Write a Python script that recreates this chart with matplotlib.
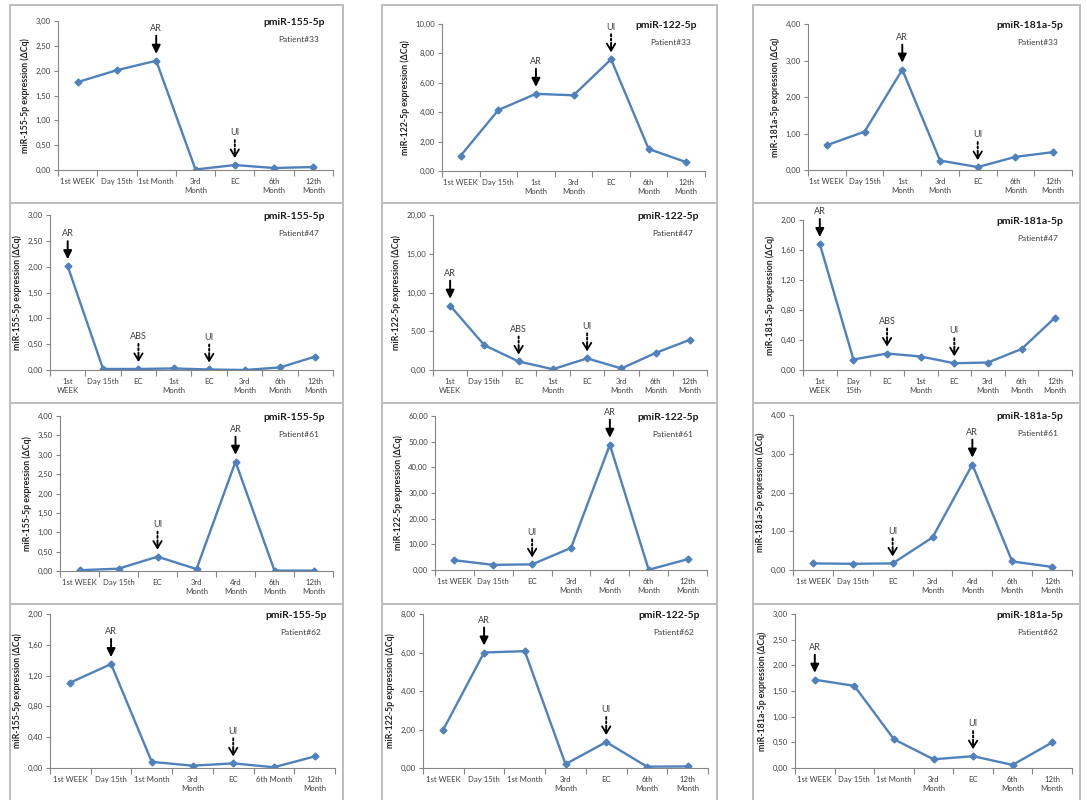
import matplotlib
matplotlib.use('Agg')
import matplotlib.pyplot as plt
from matplotlib.patches import Rectangle
from matplotlib.ticker import FuncFormatter, MultipleLocator, FixedLocator

plt.rcParams['font.family'] = ['Lato', 'DejaVu Sans']

W, H = 1087, 800

# category labels
cats_33_155 = ['1st WEEK', 'Day 15th', '1st Month', '3rd\nMonth', 'EC', '6th\nMonth', '12th\nMonth']
cats_33 = ['1st WEEK', 'Day 15th', '1st\nMonth', '3rd\nMonth', 'EC', '6th\nMonth', '12th\nMonth']
cats_47 = ['1st\nWEEK', 'Day 15th', 'EC', '1st\nMonth', 'EC', '3rd\nMonth', '6th\nMonth', '12th\nMonth']
cats_47_181 = ['1st\nWEEK', 'Day\n15th', 'EC', '1st\nMonth', 'EC', '3rd\nMonth', '6th\nMonth', '12th\nMonth']
cats_61 = ['1st WEEK', 'Day 15th', 'EC', '3rd\nMonth', '4rd\nMonth', '6th\nMonth', '12th\nMonth']
cats_62_155 = ['1st WEEK', 'Day 15th', '1st Month', '3rd\nMonth', 'EC', '6th Month', '12th\nMonth']
cats_62 = ['1st WEEK', 'Day 15th', '1st Month', '3rd\nMonth', 'EC', '6th\nMonth', '12th\nMonth']

# delta Cq values
p33_155 = [1.77, 2.01, 2.20, 0.01, 0.10, 0.04, 0.06]
p33_122 = [1.05, 4.15, 5.25, 5.15, 7.60, 1.50, 0.60]
p33_181 = [0.68, 1.05, 2.75, 0.26, 0.08, 0.36, 0.49]
p47_155 = [2.01, 0.02, 0.02, 0.03, 0.01, 0.00, 0.05, 0.26]
p47_122 = [8.30, 3.20, 1.10, 0.10, 1.50, 0.20, 2.20, 3.90]
p47_181 = [1.68, 0.14, 0.22, 0.18, 0.09, 0.10, 0.28, 0.70]
p61_155 = [0.02, 0.06, 0.37, 0.05, 2.82, 0.01, 0.01]
p61_122 = [3.80, 2.00, 2.20, 8.60, 48.8, 0.10, 4.20]
p61_181 = [0.17, 0.16, 0.17, 0.84, 2.72, 0.22, 0.08]
p62_155 = [1.11, 1.35, 0.08, 0.03, 0.06, 0.01, 0.15]
p62_122 = [2.00, 6.00, 6.07, 0.20, 1.35, 0.07, 0.08]
p62_181 = [1.72, 1.60, 0.56, 0.17, 0.23, 0.06, 0.50]

# events: (category index, label, solid arrow?)
ev_33 = [(2, 'AR', True), (4, 'UI', False)]
ev_47 = [(0, 'AR', True), (2, 'ABS', False), (4, 'UI', False)]
ev_61 = [(2, 'UI', False), (4, 'AR', True)]
ev_62 = [(1, 'AR', True), (4, 'UI', False)]
ev_62_181 = [(0, 'AR', True), (4, 'UI', False)]

lab155 = 'miR-155-5p expression (ΔCq)'
lab122 = 'miR-122-5p expression (ΔCq)'
lab181 = 'miR-181a-5p expression (ΔCq)'

panels = [
    # rect px (left, top, right, bottom), cats, vals, ymax, step, mirna, ylabel, patient, events
    ((58, 21, 333, 170), cats_33_155, p33_155, 3, 0.5, 'pmiR-155-5p', lab155, 'Patient#33', ev_33),
    ((442, 24, 705, 171), cats_33, p33_122, 10, 2, 'pmiR-122-5p', lab122, 'Patient#33', ev_33),
    ((808, 24, 1072, 170), cats_33, p33_181, 4, 1, 'pmiR-181a-5p', lab181, 'Patient#33', ev_33),
    ((50, 215, 333, 370), cats_47, p47_155, 3, 0.5, 'pmiR-155-5p', lab155, 'Patient#47', ev_47),
    ((433, 215, 707, 370), cats_47, p47_122, 20, 5, 'pmiR-122-5p', lab122, 'Patient#47', ev_47),
    ((803, 220, 1072, 370), cats_47_181, p47_181, 2, 0.4, 'pmiR-181a-5p', lab181, 'Patient#47', ev_47),
    ((60, 416, 333, 571), cats_61, p61_155, 4, 0.5, 'pmiR-155-5p', lab155, 'Patient#61', ev_61),
    ((435, 416, 707, 570), cats_61, p61_122, 60, 10, 'pmiR-122-5p', lab122, 'Patient#61', ev_61),
    ((793, 415, 1072, 570), cats_61, p61_181, 4, 1, 'pmiR-181a-5p', lab181, 'Patient#61', ev_61),
    ((50, 614, 335, 768), cats_62_155, p62_155, 2, 0.4, 'pmiR-155-5p', lab155, 'Patient#62', ev_62),
    ((423, 614, 708, 768), cats_62, p62_122, 8, 2, 'pmiR-122-5p', lab122, 'Patient#62', ev_62),
    ((795, 614, 1072, 768), cats_62, p62_181, 3, 0.5, 'pmiR-181a-5p', lab181, 'Patient#62', ev_62_181),
]

fig = plt.figure(figsize=(W / 100, H / 100), dpi=100)

# panel frames
col_x = [(10, 343), (382, 717), (753, 1080)]
row_y = [(5, 203), (203, 403), (403, 604), (604, 806)]
for (x0, x1) in col_x:
    for (y0, y1) in row_y:
        fig.add_artist(Rectangle((x0 / W, 1 - y1 / H), (x1 - x0) / W, (y1 - y0) / H,
                                 transform=fig.transFigure, fill=False,
                                 edgecolor='#bdbdbd', lw=1.4))

blue = '#4F81BD'
grey = '#868686'
fmt = FuncFormatter(lambda v, p: f'{v:.2f}'.replace('.', ','))

for rect, cats, vals, ymax, step, mirna, ylab, patient, events in panels:
    l, t, r, b = rect
    ax = fig.add_axes([l / W, 1 - b / H, (r - l) / W, (b - t) / H])
    n = len(cats)
    x = list(range(n))
    ax.plot(x, vals, color=blue, lw=1.7, marker='D', ms=3.5, mfc=blue, mec=blue)
    ax.set_xlim(-0.5, n - 0.5)
    ax.set_ylim(0, ymax)
    ax.yaxis.set_major_locator(MultipleLocator(step))
    ax.yaxis.set_major_formatter(fmt)
    # Excel-like category axis: tick marks between categories
    ax.xaxis.set_major_locator(FixedLocator([i - 0.5 for i in range(n + 1)]))
    ax.xaxis.set_major_formatter(FuncFormatter(lambda v, p: ''))
    ax.xaxis.set_minor_locator(FixedLocator(x))
    ax.set_xticklabels(cats, minor=True)
    ax.tick_params(axis='x', which='major', length=4, color=grey, width=0.8)
    ax.tick_params(axis='x', which='minor', length=0, labelsize=5.6, labelcolor='#404040', pad=6)
    ax.tick_params(axis='y', length=3, color=grey, width=0.8, labelsize=5.6, labelcolor='#404040', pad=2)
    for s in ['top', 'right']:
        ax.spines[s].set_visible(False)
    for s in ['left', 'bottom']:
        ax.spines[s].set_color(grey)
        ax.spines[s].set_linewidth(0.8)
    ax.set_ylabel(ylab, fontsize=6.3, fontweight='bold', color='#262626', labelpad=4)

    ax.annotate(mirna, xy=(1, 1), xycoords='axes fraction', xytext=(-6, -1),
                textcoords='offset points', ha='right', va='center',
                fontsize=7.5, fontweight='bold', color='#1a1a1a')
    ax.annotate(patient, xy=(1, 1), xycoords='axes fraction', xytext=(-10, -13),
                textcoords='offset points', ha='right', va='center',
                fontsize=6, color='#404040')

    for idx, label, solid in events:
        px, py = idx, vals[idx]
        if solid:
            ax.annotate('', xy=(px, py), xytext=(0, 18), textcoords='offset points',
                        annotation_clip=False,
                        arrowprops=dict(arrowstyle='-|>,head_length=0.5,head_width=0.25',
                                        color='black', lw=1.4, shrinkA=0, shrinkB=5))
        else:
            ax.annotate('', xy=(px, py), xytext=(0, 18), textcoords='offset points',
                        annotation_clip=False,
                        arrowprops=dict(arrowstyle='-', color='black', lw=1.4,
                                        linestyle=(0, (1, 1.2)), shrinkA=0, shrinkB=8))
            ax.annotate('', xy=(px, py), xytext=(0, 10), textcoords='offset points',
                        annotation_clip=False,
                        arrowprops=dict(arrowstyle='->,head_length=0.5,head_width=0.3',
                                        color='black', lw=1.3, shrinkA=0, shrinkB=5))
        ax.annotate(label, xy=(px, py), xytext=(0, 20), textcoords='offset points',
                    annotation_clip=False, ha='center', va='bottom',
                    fontsize=6.5, color='#404040')

fig.savefig('out.png', dpi=100, facecolor='white')
